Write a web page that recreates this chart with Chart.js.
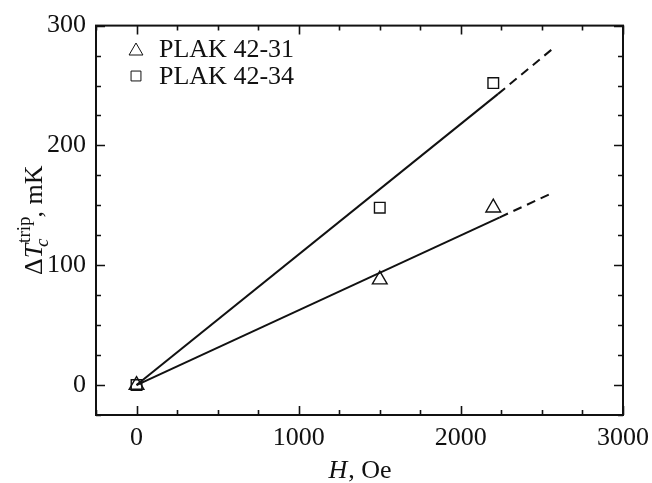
<!DOCTYPE html>
<html>
<head>
<meta charset="utf-8">
<script src="https://cdn.jsdelivr.net/npm/chart.js@4.4.0/dist/chart.umd.min.js"></script>
<style>
  html, body { margin: 0; padding: 0; background: #fff; }
  #wrap { width: 652px; height: 483px; }
</style>
</head>
<body>
<div id="wrap"><canvas id="fieldChart"></canvas></div>
<script>
// measured points
const fieldH = [0, 1500, 2200];
const plak31 = [0, 88, 148];
const plak34 = [0, 148, 252];
// fit lines: solid up to 2nd point, dashed after
const fitH31 = [0, 2240, 2560];
const fit31 = [0, 140, 160];
const fitH34 = [0, 2230, 2560];
const fit34 = [0, 243, 280];

const xTicks = [0, 1000, 2000, 3000];
const yTicks = [0, 100, 200, 300];
const seriesNames = ['PLAK 42-31', 'PLAK 42-34'];

const FONT = '"Liberation Serif", "Times New Roman", serif';

function pts(xs, ys) {
    return xs.map((x, i) => ({ x: x, y: ys[i] }));
}

function fitLine(xs, ys) {
    return {
        data: pts(xs, ys),
        showLine: true,
        borderColor: '#111',
        borderWidth: 2,
        pointRadius: 0,
        segment: {
            borderDash: ctx => ctx.p0DataIndex >= 1 ? [9, 6] : undefined
        }
    };
}

// frame, inward ticks, axis titles and legend
const decor = {
    id: 'decor',
    afterDraw(chart) {
        const ctx = chart.ctx;
        const a = chart.chartArea;
        const xs = chart.scales.x, ys = chart.scales.y;
        ctx.save();
        ctx.strokeStyle = '#111';
        ctx.lineWidth = 2;
        ctx.strokeRect(a.left, a.top, a.right - a.left, a.bottom - a.top);

        ctx.lineWidth = 1.6;
        ctx.beginPath();
        for (let v = xs.min; v <= xs.max; v += 250) {
            const px = Math.round(xs.getPixelForValue(v)) + 0.5;
            const len = v % 1000 === 0 ? 9 : 5;
            ctx.moveTo(px, a.bottom); ctx.lineTo(px, a.bottom - len);
            ctx.moveTo(px, a.top); ctx.lineTo(px, a.top + len);
        }
        for (let v = ys.min; v <= ys.max; v += 25) {
            const py = Math.round(ys.getPixelForValue(v)) + 0.5;
            const len = v % 100 === 0 ? 9 : 5;
            ctx.moveTo(a.left, py); ctx.lineTo(a.left + len, py);
            ctx.moveTo(a.right, py); ctx.lineTo(a.right - len, py);
        }
        ctx.stroke();

        ctx.fillStyle = '#111';
        ctx.textBaseline = 'alphabetic';

        // x title: H, Oe
        ctx.font = 'italic 26px ' + FONT;
        const wH = ctx.measureText('H').width;
        ctx.font = '26px ' + FONT;
        const wRest = ctx.measureText(', Oe').width;
        let x0 = (a.left + a.right) / 2 - (wH + wRest) / 2;
        ctx.font = 'italic 26px ' + FONT;
        ctx.fillText('H', x0, 478);
        ctx.font = '26px ' + FONT;
        ctx.fillText(', Oe', x0 + wH + 1, 478);

        // y title: ΔT_c^trip, mK
        ctx.translate(42, (a.top + a.bottom) / 2);
        ctx.rotate(-Math.PI / 2);
        const parts = [
            { t: '\u0394', f: '26px ', dy: 0 },
            { t: 'T', f: 'italic 26px ', dy: 0 },
            { t: 'c', f: 'italic 19px ', dy: 6 },
            { t: 'trip', f: '19px ', dy: -12 },
            { t: ', mK', f: '26px ', dy: 0 }
        ];
        parts.forEach(p => {
            ctx.font = p.f + FONT;
            p.w = ctx.measureText(p.t).width;
        });
        const total = parts[0].w + parts[1].w + Math.max(parts[2].w, parts[3].w) + parts[4].w;
        let cx = -total / 2;
        ctx.font = parts[0].f + FONT; ctx.fillText(parts[0].t, cx, 0); cx += parts[0].w;
        ctx.font = parts[1].f + FONT; ctx.fillText(parts[1].t, cx, 0); cx += parts[1].w;
        ctx.font = parts[2].f + FONT; ctx.fillText(parts[2].t, cx - 3, parts[2].dy);
        ctx.font = parts[3].f + FONT; ctx.fillText(parts[3].t, cx + 1, parts[3].dy);
        cx += Math.max(parts[2].w, parts[3].w);
        ctx.font = parts[4].f + FONT; ctx.fillText(parts[4].t, cx, 0);
        ctx.restore();

        // legend
        ctx.save();
        ctx.strokeStyle = '#111';
        ctx.fillStyle = 'rgba(0,0,0,0)';
        const h = Chart.helpers;
        h.drawPoint(ctx, { pointStyle: 'triangle', radius: 8, borderWidth: 1.4 }, 136, 51);
        h.drawPoint(ctx, { pointStyle: 'rect', radius: 7, borderWidth: 1.4 }, 136, 76);
        ctx.fillStyle = '#111';
        ctx.font = '26px ' + FONT;
        ctx.fillText(seriesNames[0], 159, 57);
        ctx.fillText(seriesNames[1], 159, 84);
        ctx.restore();
    }
};

const chart = new Chart(document.getElementById('fieldChart'), {
    type: 'scatter',
    data: {
        datasets: [
            fitLine(fitH31, fit31),
            fitLine(fitH34, fit34),
            {
                label: seriesNames[0],
                data: pts(fieldH, plak31),
                pointStyle: 'triangle',
                pointRadius: 8.5,
                pointBorderWidth: 1.4,
                borderColor: '#111',
                backgroundColor: 'rgba(0,0,0,0)'
            },
            {
                label: seriesNames[1],
                data: pts(fieldH, plak34),
                pointStyle: 'rect',
                pointRadius: 7.5,
                pointBorderWidth: 1.4,
                borderColor: '#111',
                backgroundColor: 'rgba(0,0,0,0)'
            }
        ]
    },
    options: {
        responsive: true,
        maintainAspectRatio: false,
        animation: false,
        layout: { padding: { left: 0, top: 24, right: 29, bottom: 0 } },
        plugins: { legend: { display: false }, tooltip: { enabled: false } },
        scales: {
            x: {
                type: 'linear',
                min: -250,
                max: 3000,
                afterBuildTicks: s => { s.ticks = xTicks.map(v => ({ value: v })); },
                afterFit: s => { s.height = 68; s.paddingRight = 0; },
                grid: { display: false, drawTicks: false },
                border: { display: false },
                ticks: {
                    color: '#111', padding: 8, maxRotation: 0,
                    font: { family: FONT, size: 26 },
                    callback: v => String(v)
                }
            },
            y: {
                type: 'linear',
                min: -25,
                max: 300,
                afterBuildTicks: s => { s.ticks = yTicks.map(v => ({ value: v })); },
                afterFit: s => { s.width = 96; },
                grid: { display: false, drawTicks: false },
                border: { display: false },
                ticks: {
                    color: '#111', padding: 10,
                    font: { family: FONT, size: 26 },
                    callback: v => String(v)
                }
            }
        }
    },
    plugins: [decor]
});
</script>
</body>
</html>
